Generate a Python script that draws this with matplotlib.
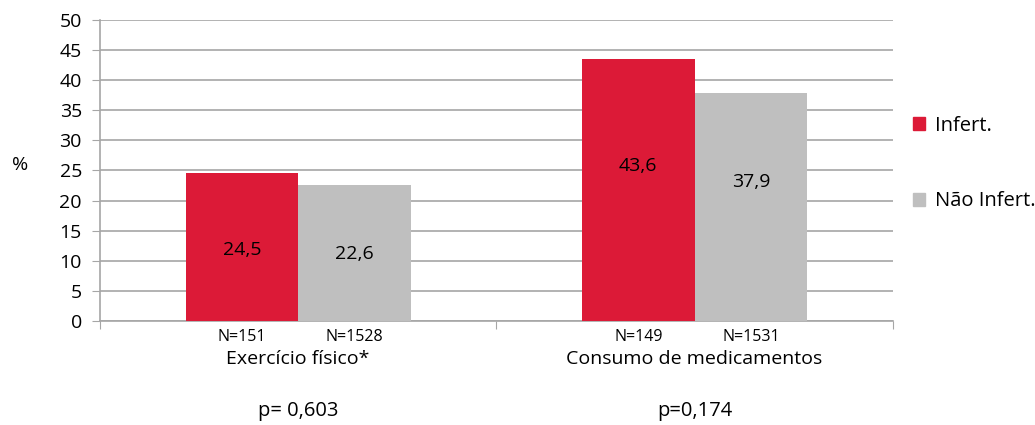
import matplotlib.pyplot as plt
from matplotlib.patches import Patch
import numpy as np

plt.rcParams['font.family'] = ['Open Sans', 'DejaVu Sans']

categories = ["Exercício físico*", "Consumo de medicamentos"]
series = ["Infert.", "Não Infert."]
infert = [24.5, 43.6]
nao_infert = [22.6, 37.9]
n_infert = ["N=151", "N=149"]
n_nao = ["N=1528", "N=1531"]
p_values = ["p= 0,603", "p=0,174"]
# where the value label sits, as a fraction of the bar height
label_frac_infert = [0.48, 0.59]
label_frac_nao = [0.49, 0.61]

colors = ["#DC1A37", "#BFBFBF"]
grid_color = "#A6A6A6"

fig = plt.figure(figsize=(10.35, 4.25), dpi=100)
ax = fig.add_axes([0.0966, 0.2447, 0.766, 0.7083])

x = np.arange(len(categories))
w = 0.284
ax.bar(x - w / 2, infert, w, color=colors[0], zorder=3)
ax.bar(x + w / 2, nao_infert, w, color=colors[1], zorder=3)

def fmt(v):
    return ("%.1f" % v).replace(".", ",")

for i in range(len(categories)):
    ax.text(x[i] - w / 2, infert[i] * label_frac_infert[i], fmt(infert[i]),
            ha="center", va="center", fontsize=14, zorder=4)
    ax.text(x[i] + w / 2, nao_infert[i] * label_frac_nao[i], fmt(nao_infert[i]),
            ha="center", va="center", fontsize=14, zorder=4)
    # sample sizes, category names and p-values under the axis
    ax.annotate(n_infert[i], (x[i] - w / 2, 0), xytext=(0, -16),
                textcoords="offset pixels", ha="center", va="center", fontsize=11.5)
    ax.annotate(n_nao[i], (x[i] + w / 2, 0), xytext=(0, -16),
                textcoords="offset pixels", ha="center", va="center", fontsize=11.5)
    ax.annotate(categories[i], (x[i], 0), xytext=(0, -38),
                textcoords="offset pixels", ha="center", va="center", fontsize=14)
    ax.annotate(p_values[i], (x[i], 0), xytext=(0, -90),
                textcoords="offset pixels", ha="center", va="center", fontsize=14.5)

ax.set_xlim(-0.5, 1.5)
ax.set_ylim(0, 50)
ax.set_yticks(range(0, 51, 5))
ax.set_xticks([-0.5, 0.5, 1.5])
ax.set_xticklabels([])
ax.tick_params(axis="y", labelsize=14, length=6, color=grid_color, pad=7)
ax.tick_params(axis="x", length=6, color=grid_color)
ax.yaxis.grid(True, color=grid_color, linewidth=1.2, zorder=0)
ax.set_axisbelow(True)
for s in ["top", "right"]:
    ax.spines[s].set_visible(False)
for s in ["left", "bottom"]:
    ax.spines[s].set_color(grid_color)
    ax.spines[s].set_linewidth(1.2)

fig.text(0.0195, 0.612, "%", fontsize=14, ha="center", va="center")

handles = [Patch(color=c) for c in colors]
fig.legend(handles, series, loc="upper left", bbox_to_anchor=(0.865, 0.77),
           frameon=False, fontsize=14.5, handlelength=0.6, handleheight=0.6,
           handletextpad=0.45, labelspacing=2.75)

fig.savefig("out.png", dpi=100)
